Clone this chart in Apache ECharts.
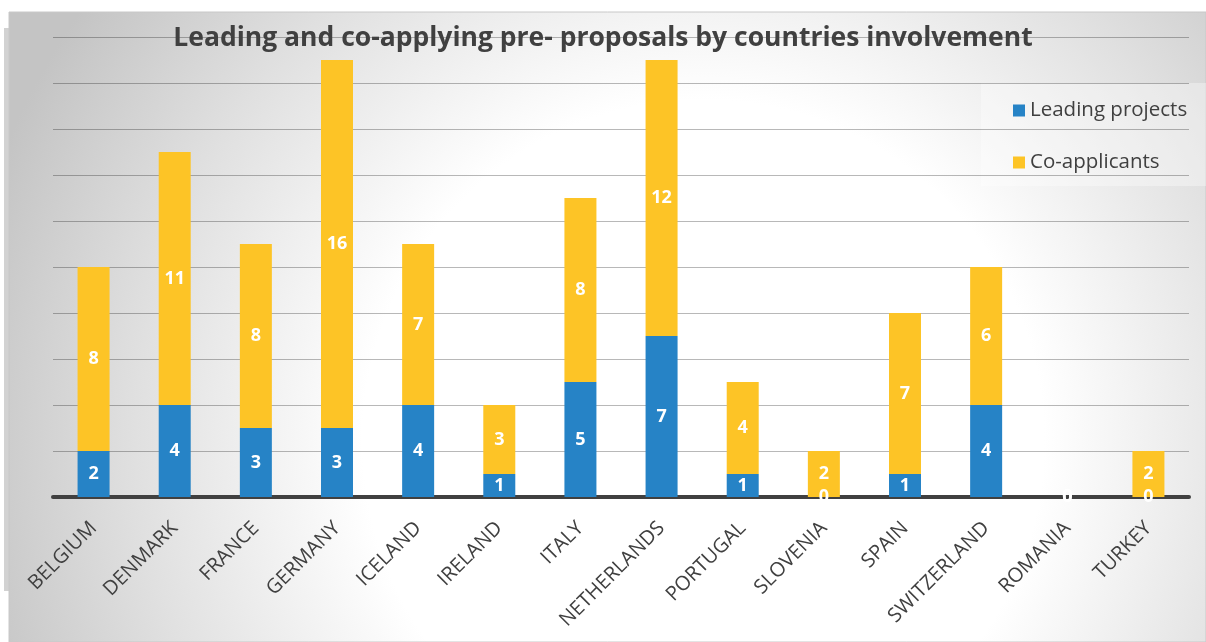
<!DOCTYPE html>
<html>
<head>
<meta charset="utf-8">
<script src="https://cdn.jsdelivr.net/npm/echarts@6/dist/echarts.min.js"></script>
<style>html,body{margin:0;padding:0;background:#fff;}#c{width:1206px;height:642px;}</style>
</head>
<body>
<div id="c"></div>
<script>
const categories = ['BELGIUM','DENMARK','FRANCE','GERMANY','ICELAND','IRELAND','ITALY','NETHERLANDS','PORTUGAL','SLOVENIA','SPAIN','SWITZERLAND','ROMANIA','TURKEY'];
const leadingProjects = [2,4,3,3,4,1,5,7,1,0,1,4,0,0];
const coApplicants = [8,11,8,16,7,3,8,12,4,2,7,6,0,2];
const seriesNames = ['Leading projects','Co-applicants'];
const titleText = 'Leading and co-applying pre- proposals by countries involvement';

const chart = echarts.init(document.getElementById('c'), null, {renderer:'canvas'});
const FONT = '"Open Sans", "Noto Sans", sans-serif';
const labelStyle = {show:true, position:'inside', color:'#fff', fontWeight:'bold', fontSize:18, fontFamily:FONT};
chart.setOption({
  animation:false,
  backgroundColor:'#ffffff',
  graphic:[
    {type:'rect', z:-10, shape:{x:4,y:28,width:10,height:563}, style:{fill:'#d2d2d2'}},
    {type:'rect', z:-9, shape:{x:9,y:12,width:1197,height:630},
      style:{fill:new echarts.graphic.RadialGradient(0.58,0.68,1.2,[{offset:0,color:'#ffffff'},{offset:0.45,color:'#ffffff'},{offset:0.75,color:'#e0e0e0'},{offset:1,color:'#c4c4c4'}]), stroke:'#c8c8c8', lineWidth:1}},
    {type:'rect', z:-5, shape:{x:981,y:83,width:225,height:103}, style:{fill:'rgba(255,255,255,0.35)'}}
  ],
  title:{text:titleText, left:'center', top:20, textStyle:{fontFamily:FONT, fontWeight:'bold', fontSize:26.5, color:'#404040'}},
  legend:{orient:'vertical', left:1008, top:95, itemWidth:12, itemHeight:12, itemGap:31, icon:'rect',
    textStyle:{fontFamily:FONT, fontSize:20.5, color:'#404040'}, data:seriesNames},
  grid:{left:53, right:17, top:37, bottom:145, containLabel:false},
  xAxis:{type:'category', data:categories,
    axisLine:{lineStyle:{color:'#404040', width:4}}, axisTick:{show:false},
    axisLabel:{rotate:45, fontFamily:FONT, fontSize:20, color:'#404040', margin:28, interval:0}},
  yAxis:{type:'value', min:0, max:20, interval:2, axisLabel:{show:false}, axisLine:{show:false}, axisTick:{show:false},
    splitLine:{lineStyle:{color:'rgba(0,0,0,0.28)', width:1}}},
  series:[
    {name:seriesNames[0], type:'bar', stack:'s', data:leadingProjects, barWidth:32,
      itemStyle:{color:'#2683c6'}, label:labelStyle},
    {name:seriesNames[1], type:'bar', stack:'s', data:coApplicants, barWidth:32,
      itemStyle:{color:'#fdc426'}, label:labelStyle}
  ]
});
</script>
</body>
</html>
